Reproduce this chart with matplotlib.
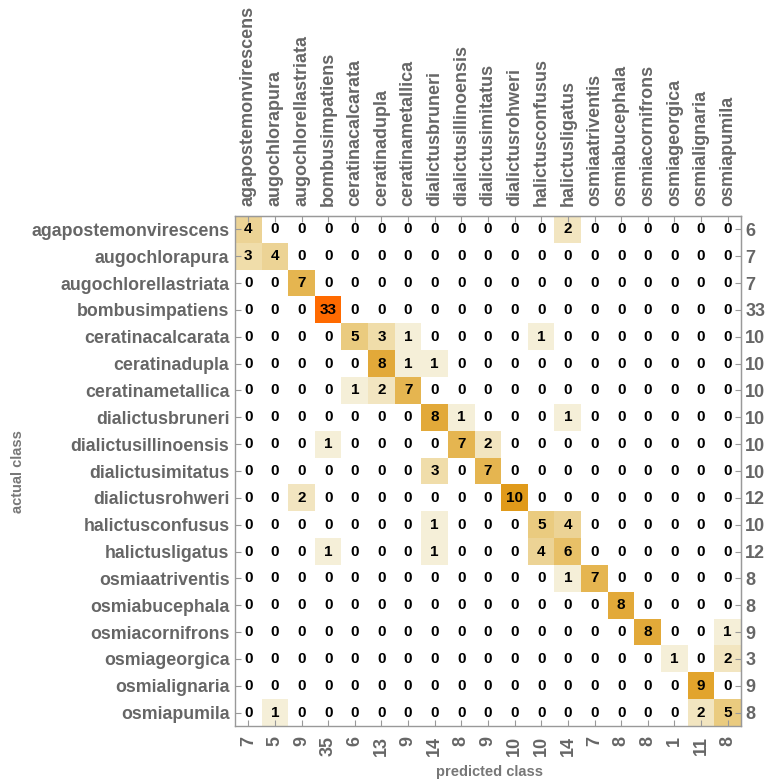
import numpy as np
import matplotlib
matplotlib.use("Agg")
import matplotlib.pyplot as plt
from matplotlib.colors import LinearSegmentedColormap

classes = ["agapostemonvirescens", "augochlorapura", "augochlorellastriata",
           "bombusimpatiens", "ceratinacalcarata", "ceratinadupla",
           "ceratinametallica", "dialictusbruneri", "dialictusillinoensis",
           "dialictusimitatus", "dialictusrohweri", "halictusconfusus",
           "halictusligatus", "osmiaatriventis", "osmiabucephala",
           "osmiacornifrons", "osmiageorgica", "osmialignaria", "osmiapumila"]

counts = [
    [4, 0, 0, 0, 0, 0, 0, 0, 0, 0, 0, 0, 2, 0, 0, 0, 0, 0, 0],
    [3, 4, 0, 0, 0, 0, 0, 0, 0, 0, 0, 0, 0, 0, 0, 0, 0, 0, 0],
    [0, 0, 7, 0, 0, 0, 0, 0, 0, 0, 0, 0, 0, 0, 0, 0, 0, 0, 0],
    [0, 0, 0, 33, 0, 0, 0, 0, 0, 0, 0, 0, 0, 0, 0, 0, 0, 0, 0],
    [0, 0, 0, 0, 5, 3, 1, 0, 0, 0, 0, 1, 0, 0, 0, 0, 0, 0, 0],
    [0, 0, 0, 0, 0, 8, 1, 1, 0, 0, 0, 0, 0, 0, 0, 0, 0, 0, 0],
    [0, 0, 0, 0, 1, 2, 7, 0, 0, 0, 0, 0, 0, 0, 0, 0, 0, 0, 0],
    [0, 0, 0, 0, 0, 0, 0, 8, 1, 0, 0, 0, 1, 0, 0, 0, 0, 0, 0],
    [0, 0, 0, 1, 0, 0, 0, 0, 7, 2, 0, 0, 0, 0, 0, 0, 0, 0, 0],
    [0, 0, 0, 0, 0, 0, 0, 3, 0, 7, 0, 0, 0, 0, 0, 0, 0, 0, 0],
    [0, 0, 2, 0, 0, 0, 0, 0, 0, 0, 10, 0, 0, 0, 0, 0, 0, 0, 0],
    [0, 0, 0, 0, 0, 0, 0, 1, 0, 0, 0, 5, 4, 0, 0, 0, 0, 0, 0],
    [0, 0, 0, 1, 0, 0, 0, 1, 0, 0, 0, 4, 6, 0, 0, 0, 0, 0, 0],
    [0, 0, 0, 0, 0, 0, 0, 0, 0, 0, 0, 0, 1, 7, 0, 0, 0, 0, 0],
    [0, 0, 0, 0, 0, 0, 0, 0, 0, 0, 0, 0, 0, 0, 8, 0, 0, 0, 0],
    [0, 0, 0, 0, 0, 0, 0, 0, 0, 0, 0, 0, 0, 0, 0, 8, 0, 0, 1],
    [0, 0, 0, 0, 0, 0, 0, 0, 0, 0, 0, 0, 0, 0, 0, 0, 1, 0, 2],
    [0, 0, 0, 0, 0, 0, 0, 0, 0, 0, 0, 0, 0, 0, 0, 0, 0, 9, 0],
    [0, 1, 0, 0, 0, 0, 0, 0, 0, 0, 0, 0, 0, 0, 0, 0, 0, 2, 5],
]

row_totals = [6, 7, 7, 33, 10, 10, 10, 10, 10, 10, 12, 10, 12, 8, 8, 9, 3, 9, 8]
col_totals = [7, 5, 9, 35, 6, 13, 9, 14, 8, 9, 10, 10, 14, 7, 8, 8, 1, 11, 8]

M = np.array(counts, dtype=float)
n = len(classes)
vmax = 33.0

cmap = LinearSegmentedColormap.from_list(
    "cm",
    [(0.0, "#FFFFFF"), (1 / vmax, "#F5EED5"), (2 / vmax, "#F2E5BF"),
     (3 / vmax, "#F0DDAA"), (4 / vmax, "#EDD496"), (5 / vmax, "#EACB7E"),
     (6 / vmax, "#E8C066"), (7 / vmax, "#E5B550"), (8 / vmax, "#E3AA3A"),
     (9 / vmax, "#E2A42C"), (10 / vmax, "#E09A1A"), (1.0, "#FF6A00")])

W, H = 769, 779
fig = plt.figure(figsize=(W / 100, H / 100), dpi=100)
ax = fig.add_axes([235 / W, 1 - 726 / H, 506 / W, 510 / H])

masked = np.ma.masked_where(M == 0, M)
ax.imshow(masked, cmap=cmap, vmin=0, vmax=vmax, aspect="auto",
          extent=(-0.5, n - 0.5, n - 0.5, -0.5), interpolation="nearest")
ax.set_xlim(-0.5, n - 0.5)
ax.set_ylim(n - 0.5, -0.5)

for i in range(n):
    for j in range(n):
        ax.text(j, i, f"{int(M[i, j])}", ha="center", va="center",
                fontsize=11, fontweight="bold", color="black",
                family="Liberation Sans")

gray = "#999999"
lab = "#666666"
for s in ax.spines.values():
    s.set_color(gray)
    s.set_linewidth(1.0)

ticks = np.arange(n)
ax.set_yticks(ticks, classes)
ax.set_xticks(ticks, [str(v) for v in col_totals], rotation=90)
ax.tick_params(axis="both", direction="in", length=4, color=gray,
               labelcolor=lab)
ax.tick_params(axis="y", pad=4, labelsize=12.8)
ax.tick_params(axis="x", pad=7, labelsize=13)
for t in ax.get_yticklabels() + ax.get_xticklabels():
    t.set_fontweight("bold")
    t.set_family("Liberation Sans")

top = ax.secondary_xaxis("top")
top.set_xticks(ticks, classes, rotation=90)
top.tick_params(direction="in", length=4, color=gray, labelcolor=lab,
                labelsize=13, pad=7)
top.spines["top"].set_color(gray)
for t in top.get_xticklabels():
    t.set_fontweight("bold")
    t.set_family("Liberation Sans")

right = ax.secondary_yaxis("right")
right.set_yticks(ticks, [str(v) for v in row_totals])
right.tick_params(direction="in", length=4, color=gray, labelcolor=lab,
                  labelsize=13, pad=3)
right.spines["right"].set_color(gray)
for t in right.get_yticklabels():
    t.set_fontweight("bold")
    t.set_family("Liberation Sans")

fig.text(18 / W, 1 - 472 / H, "actual class", rotation=90, ha="center",
         va="center", fontsize=10.5, fontweight="bold", color="#777777",
         family="Liberation Sans")
fig.text(489 / W, 1 - 772 / H, "predicted class", ha="center", va="center",
         fontsize=10.5, fontweight="bold", color="#777777",
         family="Liberation Sans")

fig.savefig("out.png", dpi=100)
